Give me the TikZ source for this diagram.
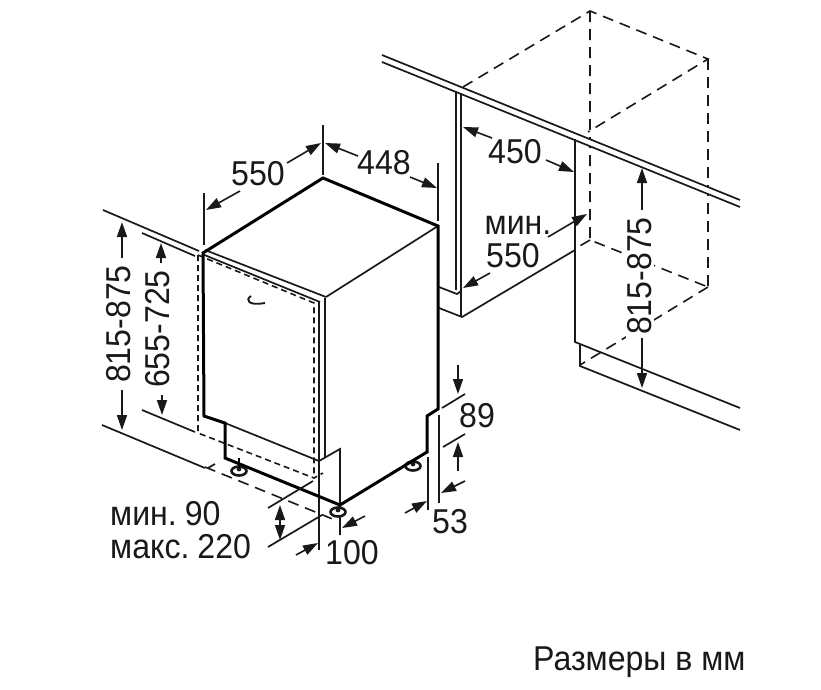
\documentclass[tikz,border=0pt]{standalone}
\usepackage{fontspec}
\setmainfont[FakeStretch=0.93]{Liberation Sans}
\usetikzlibrary{arrows.meta}
\tikzset{
  thin line/.style={line width=1.7pt,black!90,line cap=butt},
  thick line/.style={line width=3pt,black,line join=miter},
  dash long/.style={line width=1.6pt,black!90,dash pattern=on 11pt off 7pt},
  dash short/.style={line width=1.6pt,black!90,dash pattern=on 6pt off 4pt},
  dim/.style={line width=1.6pt,black!90,-{Triangle[length=15pt,width=10pt]}},
  label/.style={font=\fontsize{34.5}{38}\selectfont,inner sep=0pt,text=black!90},
  foot/.style={line width=2.6pt,black!90,fill=white}
}
\begin{document}
\begin{tikzpicture}[x=1pt,y=-1pt]
\useasboundingbox (0,0) rectangle (821,689);
% right-hand niche (dashed)
\draw[dash long] (463,87) -- (590,11) -- (708,59) -- (588,132);
\draw[dash long] (590,11) -- (590,240) -- (708,287);
\draw[dash long] (708,59) -- (708,287);
\draw[dash long] (708,287) -- (580,365);
\draw[dash long] (590,240) -- (578,247);
% worktop, hides the dashed lines behind it
\fill[white] (382,55) -- (740,200) -- (740,207) -- (382,62) -- cycle;
\draw[thin line] (382,55) -- (740,200);
\draw[thin line] (382,62) -- (740,207);
% left carcass
\draw[thin line] (456,91) -- (456,290);
\draw[thin line] (461,93) -- (461,317);
\draw[thin line] (439,287) -- (457,294) -- (461,291);
\draw[thin line] (439,308) -- (462,317) -- (575,250);
% right carcass
\draw[thin line] (575,139) -- (575,342) -- (740,408);
\draw[thin line] (580,345) -- (580,366) -- (740,430);
% door dashed
\draw[dash short] (198,255) -- (198,433) -- (314,478) -- (323,473);
\draw[dash short] (198,255) -- (205,258) -- (314,303) -- (314,478);
\draw[dash short] (319,461) -- (319,478);
% door thin
\draw[thin line] (205,250) -- (326,297);
\draw[thin line] (202,254) -- (320,302);
\draw[thin line] (319,302) -- (319,550);
\draw[thin line] (325,298) -- (325,458);
\draw[thin line] (438,226) -- (326,297);
\draw[thin line] (225,423) -- (319,461) -- (340,449) -- (340,535);
% feet
\draw[foot] (239,471) ellipse (7.5 and 4.5);
\fill[black!90] (239,469) circle (2.4);
\draw[line width=1.6pt] (239,458) -- (239,468);
\draw[foot] (338,512) ellipse (7.5 and 4.5);
\fill[black!90] (338,510) circle (2.4);
\draw[foot] (413,466) ellipse (7.5 and 4.5);
\fill[black!90] (413,464) circle (2.4);
% body outline
\draw[thick line] (203,253) -- (323,178) -- (438,226) -- (438,409) -- (427,416) -- (427,452) -- (340,505) -- (225,458) -- (225,423) -- (204,416) -- cycle;
% handle
\draw[line width=1.9pt,black!90] (251,296) .. controls (245,300) and (248,306) .. (265,303);
% extension lines
\draw[thin line] (323,125) -- (323,175);
\draw[thin line] (438,163) -- (438,221);
\draw[thin line] (204,193) -- (204,245);
\draw[thin line] (103,210) -- (199,251);
\draw[thin line] (142,233) -- (195,256);
\draw[thin line] (102,425) -- (205,468);
\draw[thin line] (142,410) -- (195,432);
\draw[dash long] (205,467) -- (335,520);
\draw[thin line] (208,468) -- (215,464);
\draw[thin line] (268,508) -- (313,481);
\draw[thin line] (268,547) -- (322,515);
\draw[thin line] (428,457) -- (428,510);
\draw[thin line] (439,415) -- (439,503);
\draw[thin line] (442,408) -- (465,394);
\draw[thin line] (443,447) -- (465,434);
% dimension arrows
\draw[dim] (287,163) -- (321,143);
\draw[dim] (240,191) -- (206,210);
\draw[dim] (358,156) -- (325,143);
\draw[dim] (410,177) -- (437,188);
\draw[dim] (122,258) -- (122,222);
\draw[dim] (161,263) -- (161,243);
\draw[dim] (122,390) -- (122,430);
\draw[dim] (162,395) -- (162,415);
\draw[dim,{Triangle[length=15pt,width=10pt]}-{Triangle[length=15pt,width=10pt]}] (280,505) -- (280,540);
\draw[dim] (296,555) -- (318,543);
\draw[dim] (365,516) -- (342,528);
\draw[dim] (405,513) -- (427,501);
\draw[dim] (465,481) -- (441,493);
\draw[dim] (458,365) -- (458,394);
\draw[dim] (458,471) -- (458,442);
\draw[dim] (492,138) -- (463,127);
\draw[dim] (546,160) -- (574,172);
\draw[dim] (548,237) -- (587,214);
\draw[dim] (490,273) -- (463,288);
\draw[dim] (642,210) -- (642,168);
\draw[dim] (642,338) -- (642,388);
% labels
\node[label] (t550) at (258,174) {550};
\node[label] (t448) at (384,163) {448};
\node[label] (t450) at (515,152) {450};
\node[label] (tmin) at (518,225) {мин.};
\node[label] (t550b) at (513,256) {550};
\node[label,rotate=90,fill=white,inner xsep=3pt,inner ysep=2pt] (t815r) at (640,276) {815-875};
\node[label,rotate=90] (t815l) at (119,324) {815-875};
\node[label,rotate=90] (t655) at (158,329) {655-725};
\node[label] (t89) at (477,416) {89};
\node[label] (t53) at (450,522) {53};
\node[label] (t100) at (352,553) {100};
\node[label,anchor=base west] (tmin90) at (110,525) {мин.\hspace{8pt}90};
\node[label,anchor=base west] (tmax) at (110,558) {макс.\hspace{8pt}220};
\node[label,anchor=base west] (tcap) at (533,670) {Размеры в мм};
\end{tikzpicture}
\end{document}
